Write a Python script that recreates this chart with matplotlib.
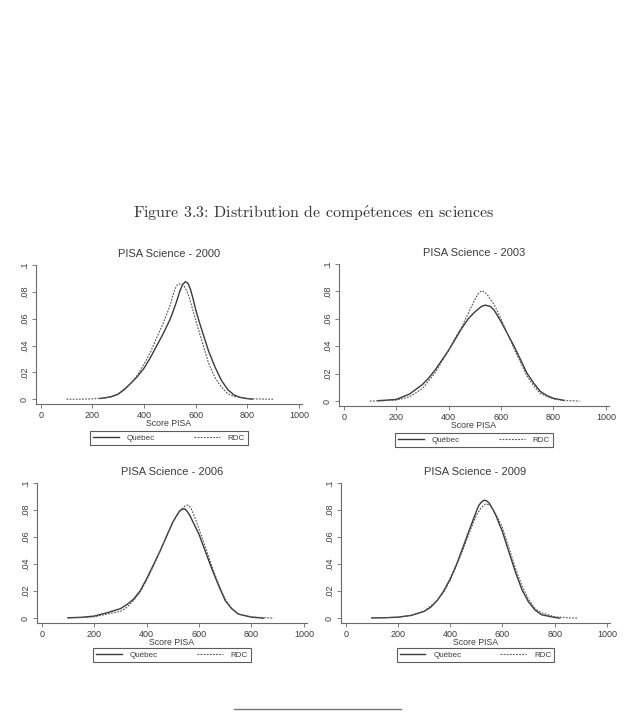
import matplotlib
matplotlib.use('Agg')
import matplotlib.pyplot as plt
import numpy as np

# --- data (kernel densities of PISA science scores) ---
titles = ['PISA Science - 2000', 'PISA Science - 2003', 'PISA Science - 2006', 'PISA Science - 2009']

qc_2000_x = [230, 250, 275, 300, 325, 350, 375, 400, 425, 450, 475, 500, 510, 525, 540, 550, 560, 570, 580, 590, 600, 612, 625, 650, 675, 700, 725, 750, 775, 800, 820]
qc_2000_y = [0.0005, 0.001, 0.002, 0.0038, 0.0075, 0.012, 0.017, 0.023, 0.031, 0.040, 0.049, 0.059, 0.064, 0.072, 0.081, 0.0855, 0.0875, 0.0865, 0.082, 0.075, 0.067, 0.059, 0.051, 0.036, 0.024, 0.014, 0.007, 0.003, 0.0012, 0.0004, 0.0]
rdc_2000_x = [100, 150, 200, 250, 275, 300, 325, 350, 375, 400, 425, 450, 475, 500, 510, 520, 530, 545, 555, 565, 575, 587, 600, 625, 650, 675, 700, 725, 750, 800, 850, 900]
rdc_2000_y = [0.0, 0.0, 0.0002, 0.001, 0.0018, 0.0035, 0.007, 0.012, 0.018, 0.026, 0.035, 0.046, 0.057, 0.069, 0.076, 0.082, 0.0855, 0.086, 0.0845, 0.081, 0.076, 0.068, 0.059, 0.043, 0.027, 0.016, 0.009, 0.004, 0.002, 0.0005, 0.0001, 0.0]

qc_2003_x = [130, 150, 200, 250, 300, 325, 350, 375, 400, 425, 450, 475, 500, 525, 540, 560, 575, 600, 625, 650, 675, 700, 725, 750, 775, 800, 840]
qc_2003_y = [0.0003, 0.0005, 0.0012, 0.005, 0.012, 0.017, 0.023, 0.030, 0.037, 0.045, 0.053, 0.060, 0.065, 0.069, 0.070, 0.069, 0.066, 0.058, 0.049, 0.040, 0.030, 0.020, 0.013, 0.007, 0.004, 0.002, 0.0005]
rdc_2003_x = [100, 150, 200, 250, 300, 350, 375, 400, 425, 450, 475, 500, 512, 525, 537, 550, 575, 600, 625, 650, 675, 700, 725, 750, 800, 850, 900]
rdc_2003_y = [0.0, 0.0002, 0.0007, 0.003, 0.009, 0.021, 0.029, 0.037, 0.046, 0.054, 0.064, 0.074, 0.078, 0.0805, 0.0795, 0.077, 0.070, 0.060, 0.049, 0.038, 0.028, 0.018, 0.011, 0.0055, 0.0015, 0.0003, 0.0]

qc_2006_x = [100, 150, 200, 250, 300, 325, 350, 375, 400, 425, 450, 475, 500, 512, 525, 535, 545, 555, 565, 575, 600, 625, 650, 675, 700, 725, 750, 800, 845]
qc_2006_y = [0.0003, 0.0006, 0.0015, 0.004, 0.007, 0.010, 0.014, 0.020, 0.029, 0.039, 0.049, 0.060, 0.071, 0.075, 0.079, 0.0805, 0.081, 0.079, 0.076, 0.072, 0.062, 0.049, 0.036, 0.024, 0.013, 0.007, 0.003, 0.0007, 0.0]
rdc_2006_x = [100, 150, 200, 250, 300, 325, 350, 375, 400, 425, 450, 475, 500, 525, 540, 550, 560, 570, 585, 600, 625, 650, 675, 700, 725, 750, 800, 850, 885]
rdc_2006_y = [0.0002, 0.0004, 0.001, 0.003, 0.005, 0.008, 0.013, 0.019, 0.028, 0.038, 0.049, 0.060, 0.071, 0.079, 0.082, 0.0835, 0.0837, 0.081, 0.074, 0.066, 0.052, 0.038, 0.025, 0.014, 0.007, 0.003, 0.001, 0.0003, 0.0]

qc_2009_x = [100, 150, 200, 250, 300, 325, 350, 375, 400, 425, 450, 475, 500, 510, 520, 530, 540, 550, 562, 575, 600, 625, 650, 675, 700, 725, 750, 800, 820]
qc_2009_y = [0.0002, 0.0003, 0.0007, 0.002, 0.005, 0.008, 0.013, 0.020, 0.029, 0.040, 0.053, 0.066, 0.079, 0.0835, 0.086, 0.0873, 0.0867, 0.085, 0.081, 0.076, 0.064, 0.049, 0.034, 0.021, 0.012, 0.006, 0.0025, 0.0005, 0.0]
rdc_2009_x = [100, 150, 200, 250, 300, 350, 375, 400, 425, 450, 475, 500, 520, 535, 550, 562, 575, 600, 625, 650, 675, 700, 725, 750, 800, 850, 890]
rdc_2009_y = [0.0002, 0.0003, 0.0007, 0.002, 0.005, 0.013, 0.019, 0.028, 0.039, 0.051, 0.064, 0.076, 0.082, 0.0844, 0.084, 0.081, 0.077, 0.067, 0.052, 0.037, 0.024, 0.014, 0.007, 0.004, 0.001, 0.0003, 0.0]

xticks = [0, 200, 400, 600, 800, 1000]
yticks = [0, 0.02, 0.04, 0.06, 0.08, 0.1]
ytick_labels = ['0', '.02', '.04', '.06', '.08', '.1']

series = [
    (qc_2000_x, qc_2000_y, rdc_2000_x, rdc_2000_y),
    (qc_2003_x, qc_2003_y, rdc_2003_x, rdc_2003_y),
    (qc_2006_x, qc_2006_y, rdc_2006_x, rdc_2006_y),
    (qc_2009_x, qc_2009_y, rdc_2009_x, rdc_2009_y),
]

plt.rcParams['mathtext.fontset'] = 'cm'

W, H = 633, 720
fig = plt.figure(figsize=(W / 100, H / 100), dpi=100)
fig.patch.set_facecolor('white')

# axes boxes in pixels: left, top, right, bottom
boxes = [(36, 265, 302, 404), (339, 264, 609, 406), (37, 483, 307, 623), (341, 483, 610, 623)]
legend_y = [438, 440, 655, 655]

line_col = '#3a3a3a'
axis_col = '#6a6a6a'
txt_col = '#3c3c3c'
sans = ['Liberation Sans', 'DejaVu Sans']

for i, (l, t, r, b) in enumerate(boxes):
    ax = fig.add_axes([l / W, 1 - b / H, (r - l) / W, (b - t) / H])
    qx, qy, rx, ry = series[i]
    ax.plot(qx, qy, color=line_col, lw=1.0, label='Québec')
    ax.plot(rx, ry, color='#555555', lw=0.8, ls=(0, (1.6, 1.2)), label='RDC')
    ax.set_xlim(-18, 1012)
    ax.set_ylim(-0.0036, 0.1)
    for s in ['top', 'right']:
        ax.spines[s].set_visible(False)
    for s in ['left', 'bottom']:
        ax.spines[s].set_color(axis_col)
        ax.spines[s].set_linewidth(0.8)
    ax.set_xticks(xticks)
    ax.set_yticks(yticks)
    ax.set_yticklabels(ytick_labels, rotation=90, va='center')
    ax.tick_params(colors=axis_col, length=3, width=0.6, labelsize=6.5, pad=2, labelcolor=txt_col)
    for lab in ax.get_xticklabels() + ax.get_yticklabels():
        lab.set_family(sans)
    ax.set_xlabel('Score PISA', fontsize=6.3, color=txt_col, family=sans, labelpad=-1)
    ax.set_title(titles[i], fontsize=8, color=txt_col, family=sans, pad=6)
    cx = (l + r) / 2 / W
    leg = ax.legend(loc='center', bbox_to_anchor=(cx, 1 - legend_y[i] / H), bbox_transform=fig.transFigure,
                    ncol=2, frameon=True, fancybox=False, handlelength=3.2,
                    columnspacing=4.8, borderpad=0.35, handletextpad=1.0,
                    prop={'family': sans, 'size': 5.8})
    leg.get_frame().set_edgecolor('#333333')
    leg.get_frame().set_linewidth(0.8)
    for tx in leg.get_texts():
        tx.set_color(txt_col)

fig.text(314 / W, 1 - 212 / H, r'Figure 3.3: Distribution de comp$\acute{\rm e}$tences en sciences',
         ha='center', va='center', fontsize=11.5, color='#333333', family='cmr10')

# footnote rule at the bottom of the page
fig.add_artist(plt.Line2D([234 / W, 401 / W], [1 - 709 / H, 1 - 709 / H], color='#777777', lw=1.0))

fig.savefig('out.png', dpi=100)
